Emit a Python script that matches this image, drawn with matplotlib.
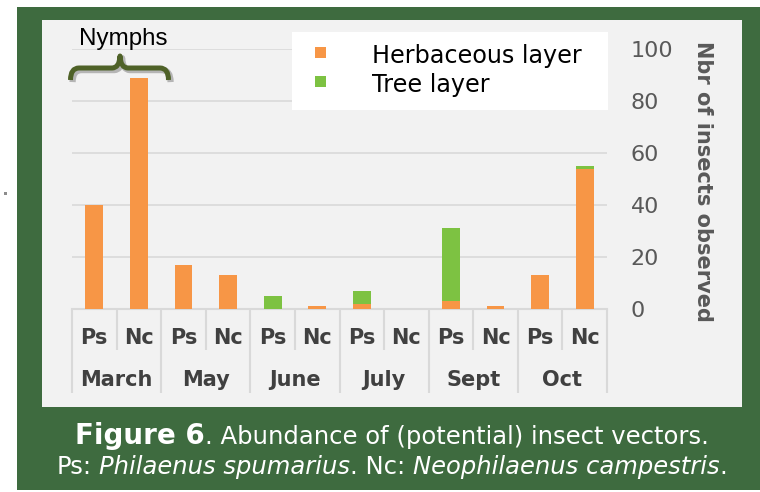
import matplotlib
matplotlib.use("Agg")
import matplotlib.pyplot as plt
import matplotlib.transforms as mtransforms
import matplotlib.patheffects as pe
from matplotlib.patches import Rectangle, PathPatch
from matplotlib.path import Path
import numpy as np

# ---------------- data ----------------
months = ["March", "May", "June", "July", "Sept", "Oct"]
species = ["Ps", "Nc"]
herbaceous = [40, 89, 17, 13, 0, 1, 2, 0, 3, 1, 13, 54]
tree = [0, 0, 0, 0, 5, 0, 5, 0, 28, 0, 0, 1]
yticks = [0, 20, 40, 60, 80, 100]
series_labels = ["Herbaceous layer", "Tree layer"]
y_label = "Nbr of insects observed"
bracket_label = "Nymphs"

# ---------------- style ----------------
BORDER = "#3E6B3F"
PANEL = "#F2F2F2"
ORANGE = "#F79646"
GREEN = "#7DC242"
GRID = "#D9D9D9"
TICK = "#595959"
CAT = "#404040"
BRACE = "#4F6228"

W, H = 760, 492
fig = plt.figure(figsize=(W / 100, H / 100), dpi=100, facecolor="white")
# pixel coordinate transform (origin top-left)
P = mtransforms.Affine2D().scale(1 / W, -1 / H).translate(0, 1) + fig.transFigure


def box(x0, y0, x1, y1, color, z=0):
    fig.patches.append(Rectangle((x0, y0), x1 - x0, y1 - y0, transform=P,
                                 facecolor=color, edgecolor="none", zorder=z))


box(17, 7, 760, 490, BORDER, z=-2)
box(42, 20, 742, 407, PANEL, z=-1)
box(3.5, 191.5, 6.5, 194.5, "#8C8C8C", z=-1)

# ---------------- axes ----------------
ax_l, ax_r, ax_t, ax_b = 72, 607, 49, 309
ax = fig.add_axes([ax_l / W, 1 - ax_b / H, (ax_r - ax_l) / W, (ax_b - ax_t) / H])
ax.set_facecolor("none")
ax.set_zorder(0)

x = np.arange(len(herbaceous))
ax.bar(x, herbaceous, width=0.4, color=ORANGE, zorder=3)
ax.bar(x, tree, width=0.4, bottom=herbaceous, color=GREEN, zorder=3)

ax.set_xlim(-0.5, len(x) - 0.5)
ax.set_ylim(0, 100)
ax.set_yticks(yticks)
ax.yaxis.tick_right()
ax.tick_params(axis="y", length=0, pad=17, labelsize=16, labelcolor=TICK)
ax.set_xticks([])
for s in ["top", "left", "right"]:
    ax.spines[s].set_visible(False)
ax.spines["bottom"].set_color(GRID)
ax.spines["bottom"].set_linewidth(1.5)
ax.grid(axis="y", color=GRID, lw=1.2, zorder=0)
ax.set_axisbelow(True)

# category axis (two levels)
bt = mtransforms.blended_transform_factory(ax.transData, P)
for i in range(len(x)):
    ax.text(x[i], 338, species[i % 2], transform=bt, ha="center", va="center",
            fontsize=15, fontweight="bold", color=CAT)
for j, m in enumerate(months):
    ax.text(2 * j + 0.5, 380, m, transform=bt, ha="center", va="center",
            fontsize=15, fontweight="bold", color=CAT)
for k in range(len(x) + 1):
    xs = k - 0.5
    y1 = 393 if k % 2 == 0 else 350
    ax.plot([xs, xs], [ax_b, y1], transform=bt, color=GRID, lw=1.5,
            clip_on=False, solid_capstyle="butt")

# y label on right
fig.text(703, 181, y_label, transform=P, rotation=270, ha="center", va="center",
         fontsize=15, fontweight="bold", color=TICK)

# ---------------- legend (manual) ----------------
box(292, 32, 608, 110, "white", z=1)
for yy, col, lab in [(52, ORANGE, series_labels[0]), (81, GREEN, series_labels[1])]:
    box(314.5, yy - 5.5, 325.5, yy + 5.5, col, z=2)
    fig.text(372, yy + 4, lab, transform=P, ha="left", va="center",
             fontsize=17.2, color="black", zorder=3)

# ---------------- Nymphs brace ----------------
verts = [(70.5, 80), (70.5, 68), (79, 68), (112, 68), (119.5, 68), (120, 56),
         (120.5, 68), (128, 68), (160, 68), (168.5, 68), (168.5, 80)]
codes = [Path.MOVETO, Path.CURVE3, Path.CURVE3, Path.LINETO, Path.CURVE3, Path.CURVE3,
         Path.CURVE3, Path.CURVE3, Path.LINETO, Path.CURVE3, Path.CURVE3]
brace = PathPatch(Path(verts, codes), transform=P, facecolor="none", edgecolor=BRACE,
                  lw=3.6, capstyle="butt", joinstyle="round", zorder=5,
                  path_effects=[pe.SimpleLineShadow(offset=(1.5, -1.5), shadow_color="black",
                                                    alpha=0.25, linewidth=4.5),
                                pe.Normal()])
fig.patches.append(brace)
fig.text(123.5, 45, bracket_label, transform=P, ha="center", va="baseline",
         fontsize=17.4, family="Liberation Sans", color="black")

# ---------------- caption ----------------
renderer = fig.canvas.get_renderer()


def width_of(s, **kw):
    t = fig.text(0, 0, s, **kw)
    w = t.get_window_extent(renderer).width
    t.remove()
    return w


def rich_line(pieces, xc, ybase):
    texts = []
    pos = 0.0
    for s, kw, gap in pieces:
        t = fig.text(0, ybase, s, transform=P, ha="left", va="baseline",
                     color="white", **kw)
        w = t.get_window_extent(renderer).width
        texts.append((t, pos))
        pos += w + gap
    total = pos
    for t, p0 in texts:
        t.set_x(xc - total / 2 + p0)


reg = dict(fontsize=17.5)
ita = dict(fontsize=17.5, style="italic")
sp = width_of("x x", **reg) - width_of("xx", **reg)
rich_line([("Figure 6", dict(fontsize=20, fontweight="bold"), 0),
           (". Abundance of (potential) insect vectors.", reg, 0)], 392, 444)
rich_line([("Ps:", reg, sp), ("Philaenus spumarius", ita, 0), (". Nc:", reg, sp),
           ("Neophilaenus campestris", ita, 0), (".", reg, 0)], 392, 474)

fig.savefig("out.png", dpi=100, facecolor="white")
